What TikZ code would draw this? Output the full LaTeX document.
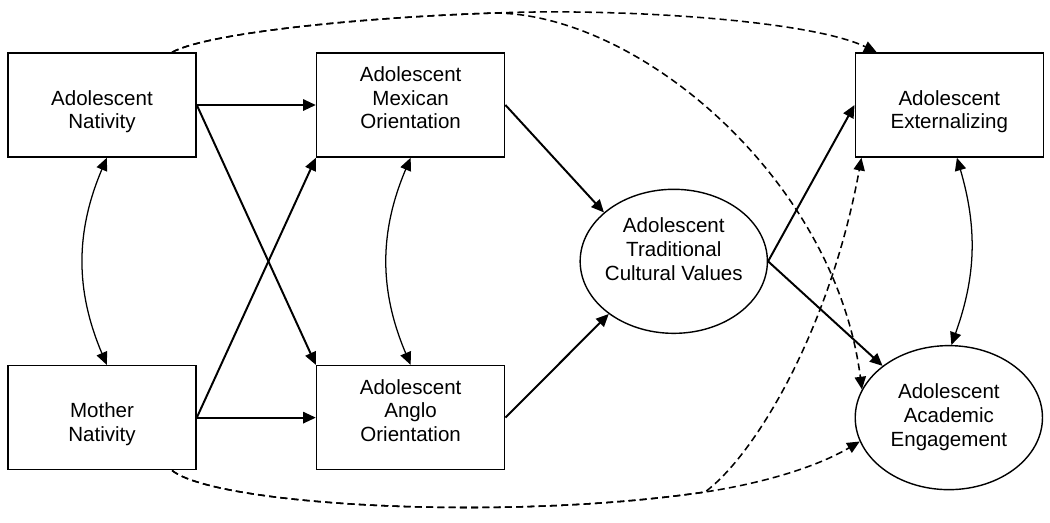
\documentclass[tikz,border=0pt]{standalone}
\usepackage{fontspec}
\setmainfont{Liberation Sans}
\usepackage{tikz}
\usetikzlibrary{shapes.geometric, arrows.meta, positioning}

\begin{document}
\begin{tikzpicture}[
    x=0.025cm, y=-0.025cm,
    >={Triangle[length=9pt,width=8pt]},
    font=\fontsize{14.6}{16.8}\selectfont,
    box/.style={rectangle, draw, line width=1.1pt, minimum width=4.7cm, minimum height=2.6cm, align=center, inner sep=0pt, text height=40pt, text depth=6pt},
    latent/.style={ellipse, draw, line width=1pt, minimum width=4.68cm, minimum height=3.6cm, align=center, inner ysep=0pt, inner xsep=-3pt, text depth=6pt},
    effect/.style={->, line width=1.4pt},
    cov/.style={<->, line width=0.9pt},
    direct/.style={->, line width=1.1pt, dash pattern=on 5pt off 3pt}
]
    \useasboundingbox (0,0) rectangle (1050,522);

    \node[box] (an) at (102,105) {Adolescent\\Nativity};
    \node[box, below=5.175cm of an] (mn) {Mother\\Nativity};
    \node[box, right=2.975cm of an] (mex) {Adolescent\\Mexican\\Orientation};
    \node[box, right=2.975cm of mn] (ang) {Adolescent\\Anglo\\Orientation};
    \path (mex.east) -- (ang.east) coordinate[midway] (mid);
    \node[latent, text height=32.6pt, right=1.85cm of mid] (trad) {Adolescent\\Traditional\\Cultural Values};
    \node[box, right=8.725cm of mex] (ext) {Adolescent\\Externalizing};
    \node[latent, text height=46.6pt, right=8.725cm of ang] (eng) {Adolescent\\Academic\\Engagement};

    \draw[effect] (an.east) -- (mex.west);
    \draw[effect] (an.east) -- (ang.north west);
    \draw[effect] (mn.east) -- (mex.south west);
    \draw[effect] (mn.east) -- (ang.west);
    \draw[effect] (mex.east) -- (trad.145);
    \draw[effect] (ang.east) -- (trad.219);
    \draw[effect] (trad.east) -- (ext.west);
    \draw[effect] (trad.east) -- (eng.142);

    \draw[cov] ([xshift=0.12cm]an.south) to[bend right=23] ([xshift=0.12cm]mn.north);
    \draw[cov] (mex.south) to[bend right=23] (ang.north);
    \draw[cov] ([xshift=0.19cm]ext.south) to[bend left=18] (eng.88);

    \coordinate (topsplit) at (495,13);
    \coordinate (botsplit) at (705,492);
    \draw[direct] (an.37) .. controls (210,32) and (370,17) .. (topsplit) .. controls (620,8) and (810,20) .. (ext.144);
    \draw[direct] (an.37) .. controls (210,32) and (370,17) .. (topsplit) .. controls (640,14) and (835,180) .. (eng.162);
    \draw[direct] (mn.-37) .. controls (215,505) and (500,522) .. (botsplit) .. controls (770,482) and (820,465) .. (eng.195);
    \draw[direct] (mn.-37) .. controls (215,505) and (500,522) .. (botsplit) .. controls (755,455) and (830,330) .. (ext.211);
\end{tikzpicture}
\end{document}
